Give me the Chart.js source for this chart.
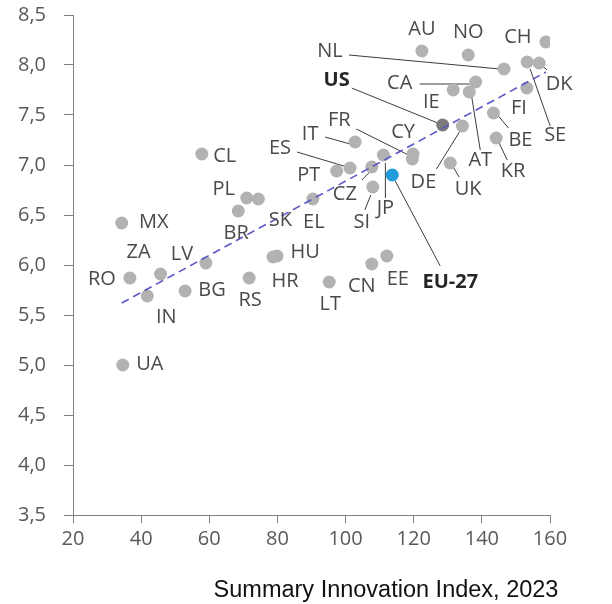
<!DOCTYPE html>
<html><head><meta charset="utf-8">
<script src="https://cdn.jsdelivr.net/npm/chart.js@4.4.0/dist/chart.umd.min.js"></script>
<style>html,body{margin:0;padding:0;background:#fff}#wrap{width:612px;height:604px}</style>
</head><body><div id="wrap"><canvas id="c" width="612" height="604"></canvas></div>
<script>
// ---- data ----
const countries = ['AU','NO','CH','NL','SE','DK','FI','BE','KR','CA','AT','IE','US','DE','UK','CY','FR','IT','ES','PT','CZ','JP','SI','EU-27','EL','SK','PL','BR','CL','MX','ZA','LV','RO','BG','IN','UA','RS','HR','HU','LT','CN','EE'];
const siiValues = [122.4,136.0,158.8,146.5,153.3,156.8,153.2,143.4,144.2,138.2,136.3,131.6,128.5,134.3,130.7,119.8,119.6,102.8,101.3,97.4,107.7,111.1,108.0,113.7,90.4,74.4,71.0,68.5,57.8,34.3,45.7,59.0,36.7,52.9,41.8,34.6,71.7,78.7,79.9,95.2,107.7,112.1];
const yValues = [8.14,8.10,8.23,7.96,8.03,8.02,7.77,7.52,7.27,7.83,7.73,7.75,7.40,7.39,7.02,7.11,7.06,7.23,6.97,6.94,6.98,7.10,6.78,6.90,6.66,6.66,6.67,6.54,7.11,6.42,5.91,6.02,5.87,5.74,5.69,5.00,5.87,6.08,6.09,5.83,6.01,6.09];
const trendX = [34.3, 158.8];
const trendY = [5.62, 7.93];
const xTicks = [20,40,60,80,100,120,140,160];
const yTicks = [3.5,4.0,4.5,5.0,5.5,6.0,6.5,7.0,7.5,8.0,8.5];
const xTitle = 'Summary Innovation Index, 2023';
const boldLabels = ['US','EU-27'];

// ---- label placement (pixel offsets from each dot) ----
const labelLayout = {
  'AU':{dx:0,dy:-22}, 'NO':{dx:0,dy:-23}, 'CH':{dx:-28,dy:-5},
  'NL':{dx:-174,dy:-18, lead:[-155,-14,-4,0]},
  'SE':{dx:28,dy:73, lead:[3,7,23,64]},
  'DK':{dx:20,dy:21, lead:[1,1,8,7]},
  'FI':{dx:-8,dy:20},
  'BE':{dx:27,dy:27, lead:[5,3,15,15]},
  'KR':{dx:17,dy:33, lead:[3,5,11,22]},
  'CA':{dx:-76,dy:1, lead:[-56,2,-6,2]},
  'AT':{dx:11,dy:68, lead:[2,2,11,58]},
  'IE':{dx:-22,dy:12},
  'US':{dx:-106,dy:-45, lead:[-91,-37,0,0]},
  'DE':{dx:-39,dy:56, lead:[-3,6,-26,43]},
  'UK':{dx:18,dy:26, lead:[3,4,9,14]},
  'CY':{dx:-10,dy:-22},
  'FR':{dx:-73,dy:-39, lead:[-56,-30,-2,-3]},
  'IT':{dx:-45,dy:-8, lead:[-30,-5,-5,2]},
  'ES':{dx:-70,dy:-20, lead:[-53,-16,-3,-1]},
  'PT':{dx:-28,dy:4},
  'CZ':{dx:-27,dy:27, lead:[-10,13,-2,5]},
  'JP':{dx:2,dy:53, lead:[2,43,2,8]},
  'SI':{dx:-11,dy:35, lead:[-8,23,-2,8]},
  'EU-27':{dx:58,dy:107, lead:[3,6,48,91]},
  'EL':{dx:1,dy:23}, 'SK':{dx:22,dy:21}, 'BR':{dx:-2,dy:22},
  'PL':{dx:-23,dy:-9}, 'CL':{dx:23,dy:2}, 'MX':{dx:32,dy:-1},
  'ZA':{dx:-22,dy:-22}, 'LV':{dx:-24,dy:-9}, 'RO':{dx:-28,dy:1},
  'BG':{dx:27,dy:-1}, 'IN':{dx:19,dy:21}, 'UA':{dx:27,dy:-1},
  'RS':{dx:1,dy:22}, 'HR':{dx:12,dy:24}, 'HU':{dx:28,dy:-4},
  'LT':{dx:1,dy:22}, 'CN':{dx:-10,dy:22}, 'EE':{dx:11,dy:23}
};

const pointColor = c => c === 'EU-27' ? '#219bd9' : (c === 'US' ? '#7b7b7b' : '#b2b2b2');

const labelsPlugin = {
  id: 'labelsPlugin',
  beforeDatasetsDraw(chart) {
    const ctx = chart.ctx, xs = chart.scales.x, ys = chart.scales.y;
    ctx.save();
    ctx.strokeStyle = '#3c3c3c';
    ctx.lineWidth = 1;
    countries.forEach((c, i) => {
      const L = labelLayout[c];
      if (!L || !L.lead) return;
      const px = xs.getPixelForValue(siiValues[i]), py = ys.getPixelForValue(yValues[i]);
      ctx.beginPath();
      ctx.moveTo(px + L.lead[0], py + L.lead[1]);
      ctx.lineTo(px + L.lead[2], py + L.lead[3]);
      ctx.stroke();
    });
    ctx.restore();
  },
  afterDatasetsDraw(chart) {
    const ctx = chart.ctx, xs = chart.scales.x, ys = chart.scales.y;
    ctx.save();
    ctx.textAlign = 'center';
    ctx.textBaseline = 'middle';
    countries.forEach((c, i) => {
      const L = labelLayout[c];
      const px = xs.getPixelForValue(siiValues[i]), py = ys.getPixelForValue(yValues[i]);
      const bold = boldLabels.includes(c);
      ctx.font = (bold ? 'bold ' : '') + '20px "Open Sans"';
      ctx.fillStyle = bold ? '#262626' : '#4a4a4a';
      ctx.fillText(c, px + L.dx, py + L.dy);
    });
    // axis title
    ctx.font = '23.5px "Liberation Sans"';
    ctx.fillStyle = '#111111';
    ctx.textBaseline = 'alphabetic';
    ctx.fillText(xTitle, 386, 597);
    ctx.restore();
  }
};

new Chart(document.getElementById('c'), {
  type: 'scatter',
  data: {
    datasets: [
      {
        type: 'line',
        data: trendX.map((x, i) => ({x, y: trendY[i]})),
        borderColor: '#5a58c8',
        borderWidth: 1.6,
        borderDash: [8, 5],
        pointRadius: 0,
        fill: false,
        order: 0
      },
      {
        data: countries.map((c, i) => ({x: siiValues[i], y: yValues[i]})),
        backgroundColor: countries.map(pointColor),
        borderWidth: 0,
        pointRadius: 6.5,
        pointHoverRadius: 6.5,
        order: 1
      }
    ]
  },
  options: {
    responsive: false,
    animation: false,
    devicePixelRatio: 1,
    layout: { padding: { top: 15, right: 62, bottom: 0, left: 0 } },
    plugins: { legend: { display: false }, tooltip: { enabled: false } },
    scales: {
      x: {
        type: 'linear', min: 20, max: 160,
        afterBuildTicks: s => { s.ticks = xTicks.map(v => ({value: v})); },
        afterFit: s => { s.height = 89; },
        grid: { drawOnChartArea: false, drawTicks: true, tickLength: 8, color: '#808080' },
        border: { display: true, color: '#808080', width: 1 },
        ticks: { color: '#595959', font: { family: '"Open Sans"', size: 20 }, padding: 4, maxRotation: 0 }
      },
      y: {
        type: 'linear', min: 3.5, max: 8.5,
        afterBuildTicks: s => { s.ticks = yTicks.map(v => ({value: v})); },
        afterFit: s => { s.width = 73; s.paddingTop = 0; s.paddingBottom = 0; },
        grid: { drawOnChartArea: false, drawTicks: true, tickLength: 9, color: '#808080' },
        border: { display: true, color: '#808080', width: 1 },
        ticks: { color: '#595959', font: { family: '"Open Sans"', size: 20, lineHeight: 1 }, padding: 18,
                 callback: v => v.toFixed(1).replace('.', ',') }
      }
    }
  },
  plugins: [labelsPlugin]
});
</script></body></html>
